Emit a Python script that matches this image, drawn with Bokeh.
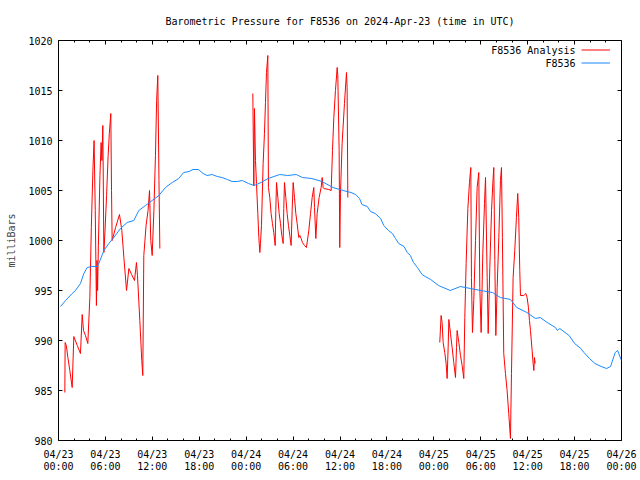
import numpy as np
from bokeh.plotting import figure
from bokeh.models import (Range1d, FixedTicker, LinearAxis, Legend, LegendItem,
                          Label, ColumnDataSource)
from bokeh.embed import file_html
from bokeh.resources import INLINE

# ---------------- data (hours since 2024-04-23 00:00 UTC, pressure in mb) ----------------
obs_hours = [0.26, 0.9, 1.75, 2.17, 2.81, 3.24, 3.67, 4.3, 4.94, 5.16, 5.8, 6.44, 7.07,
             7.93, 8.78, 9.63, 10.27, 11.13, 11.98, 12.83, 13.68, 14.54, 15.38, 16.0,
             16.7, 17.2, 17.9, 18.5, 19.0, 19.65, 20.3, 20.9, 21.6, 22.2, 22.85, 23.5,
             24.3, 25.0, 25.9, 26.8, 28.3, 29.3, 30.4, 31.2, 32.4, 33.7, 35.1, 36.4,
             37.4, 38.0, 38.5, 38.8, 39.5, 39.9, 40.5, 41.2, 41.6, 42.2, 42.7, 43.1,
             43.5, 44.2, 44.6, 45.0, 45.4, 45.9, 46.5, 46.9, 47.6, 48.6, 48.9, 50.1,
             51.4, 52.7, 54.0, 55.5, 56.5, 57.8, 58.6, 59.9, 61.0, 61.6, 62.5, 63.55,
             63.8, 64.1, 65.3, 66.0, 66.8, 67.2, 67.9, 68.6, 69.4, 70.1, 70.6, 71.2,
             71.5, 72.0]
obs_mb = [993.4, 994.0, 994.7, 995.0, 995.7, 996.7, 997.3, 997.4, 997.4, 997.7, 999.0,
          999.7, 1000.3, 1001.2, 1001.8, 1002.0, 1003.0, 1003.5, 1004.0, 1004.5, 1005.3,
          1005.8, 1006.2, 1006.8, 1006.9, 1007.1, 1007.1, 1006.7, 1006.5, 1006.6, 1006.4,
          1006.3, 1006.1, 1005.9, 1005.9, 1006.0, 1005.7, 1005.5, 1005.8, 1006.2, 1006.6,
          1006.5, 1006.6, 1006.3, 1006.2, 1005.9, 1005.3, 1005.0, 1004.8, 1004.6, 1004.2,
          1003.6, 1003.4, 1002.9, 1002.7, 1002.2, 1001.5, 1001.0, 1000.7, 1000.2, 999.7,
          999.4, 998.8, 998.5, 997.8, 997.3, 996.6, 996.4, 996.1, 995.5, 995.4, 995.0,
          995.4, 995.2, 995.0, 994.8, 994.3, 994.1, 993.3, 992.8, 992.2, 992.3, 991.8,
          991.3, 991.0, 991.2, 990.5, 989.7, 989.2, 988.8, 988.2, 987.7, 987.4, 987.2,
          987.4, 988.8, 989.0, 988.0]

ana1_hours = [0.81, 0.85, 1.0, 1.2, 1.45, 1.75, 1.96, 2.4, 2.81, 3.03, 3.2, 3.45, 3.75,
              4.01, 4.2, 4.4, 4.55, 4.7, 4.85, 4.92, 5.0, 5.1, 5.3, 5.45, 5.55, 5.67,
              5.8, 5.95, 6.15, 6.35, 6.5, 6.69, 6.78, 6.86, 7.3, 7.8, 8.1, 8.36, 8.7,
              9.0, 9.35, 9.72, 9.97, 10.1, 10.4, 10.65, 10.78, 10.91, 11.2, 11.45,
              11.64, 11.8, 11.98, 12.2, 12.4, 12.55, 12.7, 12.85, 12.96]
ana1_mb = [984.8, 989.8, 989.5, 988.3, 987.0, 985.3, 990.4, 989.5, 988.7, 992.6, 991.0,
           990.5, 989.7, 994.3, 1001.3, 1007.0, 1010.0, 1003.0, 993.5, 998.0, 995.0,
           999.5, 1006.5, 1009.8, 1008.0, 1011.5, 998.8, 1001.0, 1004.5, 1008.5, 1010.7,
           1012.7, 1005.0, 1000.0, 1001.3, 1002.6, 1001.0, 998.3, 995.0, 997.2, 996.6,
           996.0, 997.8, 996.5, 992.0, 988.0, 986.5, 998.5, 1001.5, 1003.0, 1005.0,
           1000.0, 998.5, 1003.0, 1008.5, 1014.0, 1016.5, 1006.0, 999.2]

ana2_hours = [24.85, 24.98, 25.06, 25.19, 25.32, 25.49, 25.62, 25.75, 25.83, 25.96, 26.17,
              26.34, 26.47, 26.6, 26.77, 26.85, 27.02, 27.19, 27.36, 27.53, 27.71, 27.79,
              27.88, 28.05, 28.22, 28.39, 28.56, 28.73, 28.81, 28.9, 29.07, 29.24, 29.41,
              29.58, 29.75, 29.88, 30.01, 30.18, 30.35, 30.52, 30.73, 30.86, 31.03, 31.2,
              31.46, 31.71, 32.01, 32.23, 32.44, 32.65, 32.74, 32.91, 33.08, 33.33, 33.59,
              33.72, 33.84, 33.93, 34.57, 34.87, 35.04, 35.21, 35.42, 35.64, 35.72, 35.89,
              35.97, 36.06, 36.27, 36.57, 36.83, 36.91, 37.0]
ana2_mb = [1014.7, 1005.5, 1013.2, 1008.0, 1005.7, 1002.7, 1000.3, 998.8, 999.7, 1001.5,
           1007.7, 1010.7, 1013.8, 1016.8, 1018.5, 1005.3, 1004.3, 1002.7, 1001.7, 1000.8,
           999.5, 1003.0, 1005.8, 1004.3, 1002.7, 1001.7, 1000.5, 999.7, 1003.2, 1005.8,
           1004.3, 1002.7, 1001.5, 1000.5, 999.5, 1003.0, 1005.8, 1004.3, 1002.7, 1001.7,
           1000.3, 1000.5, 1000.2, 999.8, 999.5, 999.3, 1001.0, 1002.7, 1004.3, 1005.3,
           1003.3, 1000.2, 1002.7, 1004.3, 1005.3, 1006.3, 1005.3, 1005.2, 1005.1, 1005.0,
           1009.0, 1012.3, 1015.0, 1017.3, 1016.5, 1009.0, 999.3, 1004.7, 1009.7, 1013.7,
           1016.8, 1015.3, 1004.3]

ana3_hours = [48.76, 48.93, 49.06, 49.19, 49.4, 49.57, 49.7, 49.83, 49.92, 50.13, 50.34,
              50.55, 50.77, 50.9, 50.98, 51.2, 51.41, 51.62, 51.83, 51.96, 52.13, 52.35,
              52.56, 52.73, 52.81, 52.94, 53.11, 53.33, 53.54, 53.75, 53.88, 54.05, 54.26,
              54.48, 54.61, 54.82, 54.95, 55.16, 55.38, 55.55, 55.67, 55.8, 55.93, 56.1,
              56.31, 56.52, 56.65, 56.77, 56.94, 57.16, 57.37, 57.58, 57.8, 57.93, 58.14,
              58.35, 58.56, 58.73, 58.86, 58.99, 59.08, 59.5, 59.76, 59.93, 60.1, 60.23,
              60.36, 60.57, 60.7, 60.79, 60.87, 60.96]
ana3_mb = [989.8, 992.5, 991.8, 989.8, 988.8, 987.7, 986.2, 989.3, 992.1, 990.7, 989.3,
           987.8, 986.3, 989.3, 991.0, 989.8, 988.5, 987.5, 986.2, 992.3, 997.7, 1003.2,
           1005.8, 1007.3, 996.3, 990.8, 994.0, 1000.0, 1005.3, 1006.8, 995.3, 990.8,
           998.7, 1003.7, 1006.3, 996.3, 990.7, 997.3, 1003.0, 1005.8, 1007.3, 998.0,
           990.5, 995.3, 1000.3, 1006.0, 1007.3, 1000.3, 988.7, 986.7, 985.0, 982.7,
           980.2, 986.7, 996.3, 999.0, 1002.3, 1004.7, 1002.3, 997.0, 994.5, 994.5,
           994.7, 994.3, 993.3, 992.0, 991.0, 989.0, 987.7, 987.0, 988.3, 987.7]

x_tick_hours = [0, 6, 12, 18, 24, 30, 36, 42, 48, 54, 60, 66, 72]
x_tick_labels = ["04/23\n00:00", "04/23\n06:00", "04/23\n12:00", "04/23\n18:00",
                 "04/24\n00:00", "04/24\n06:00", "04/24\n12:00", "04/24\n18:00",
                 "04/25\n00:00", "04/25\n06:00", "04/25\n12:00", "04/25\n18:00",
                 "04/26\n00:00"]
x_minor_hours = [2, 4, 8, 10, 14, 16, 20, 22, 26, 28, 32, 34, 38, 40, 44, 46, 50, 52,
                 56, 58, 62, 64, 68, 70]
y_ticks = [980, 985, 990, 995, 1000, 1005, 1010, 1015, 1020]

title_text = "Barometric Pressure for F8536 on 2024-Apr-23 (time in UTC)"
y_label = "milliBars"
series_names = ["F8536 Analysis", "F8536"]
series_colors = ["#ff0000", "#1a88ff"]

FONT = "DejaVu Sans Mono"
FS = "10px"

# ---------------- build ----------------
nan = float("nan")
ana_hours = ana1_hours + [nan] + ana2_hours + [nan] + ana3_hours
ana_mb = ana1_mb + [nan] + ana2_mb + [nan] + ana3_mb

p = figure(width=640, height=480, x_range=Range1d(0, 72), y_range=Range1d(980, 1020),
           output_backend="svg", toolbar_location=None,
           x_axis_type=None, y_axis_type=None,
           min_border_left=58, min_border_right=19, min_border_top=40, min_border_bottom=40)
p.grid.visible = False
p.outline_line_color = "black"
p.outline_line_width = 1
p.background_fill_color = "white"
p.border_fill_color = "white"

p.title.text = title_text
p.title.align = "center"
p.title.vertical_align = "top"
p.title.text_font = FONT
p.title.text_font_size = FS
p.title.text_font_style = "normal"
p.title.text_color = "black"
p.title.standoff = 24

def style_axis(ax):
    ax.axis_line_color = None
    ax.major_tick_in = 4
    ax.major_tick_out = 0
    ax.minor_tick_in = 2
    ax.minor_tick_out = 0
    ax.major_tick_line_color = "black"
    ax.minor_tick_line_color = "black"
    ax.major_label_text_font = FONT
    ax.major_label_text_font_size = FS
    ax.major_label_text_color = "black"

xt = FixedTicker(ticks=x_tick_hours, minor_ticks=x_minor_hours)
yt = FixedTicker(ticks=y_ticks, minor_ticks=[])

xb = LinearAxis(ticker=xt, major_label_overrides=dict(zip(x_tick_hours, x_tick_labels)))
style_axis(xb)
xb.major_label_standoff = 8
xb.major_label_text_line_height = 1.15
p.add_layout(xb, "below")

# mirrored tick marks (no labels) on top and right
xa = LinearAxis(ticker=xt, major_label_overrides={h: "" for h in x_tick_hours})
style_axis(xa)
xa.major_label_standoff = 0
p.add_layout(xa, "above")

yl = LinearAxis(ticker=yt, axis_label=y_label)
style_axis(yl)
yl.major_label_standoff = 6
yl.axis_label_text_font = FONT
yl.axis_label_text_font_size = FS
yl.axis_label_text_font_style = "normal"
yl.axis_label_standoff = 8
p.add_layout(yl, "left")

yr = LinearAxis(ticker=yt, major_label_overrides={v: "" for v in y_ticks})
style_axis(yr)
yr.major_label_standoff = 0
p.add_layout(yr, "right")

src_ana = ColumnDataSource(dict(x=ana_hours, y=ana_mb))
src_obs = ColumnDataSource(dict(x=obs_hours, y=obs_mb))
r_ana = p.line("x", "y", source=src_ana, line_color=series_colors[0], line_width=1)
r_obs = p.line("x", "y", source=src_obs, line_color=series_colors[1], line_width=1)

leg = Legend(items=[LegendItem(label=" ", renderers=[r_ana]),
                    LegendItem(label=" ", renderers=[r_obs])],
             location="top_right", glyph_width=29, glyph_height=13, spacing=0,
             padding=0, margin=3, label_standoff=8, label_width=0, label_height=0,
             label_text_font_size="1px", background_fill_alpha=0, border_line_alpha=0)
p.add_layout(leg)

for i, name in enumerate(series_names):
    p.add_layout(Label(x=517, y=390 - 13 * i, x_units="screen", y_units="screen",
                       text=name, text_align="right", text_baseline="middle",
                       text_font=FONT, text_font_size=FS, text_color="black"))

open("out.html", "w").write(file_html(p, INLINE))
